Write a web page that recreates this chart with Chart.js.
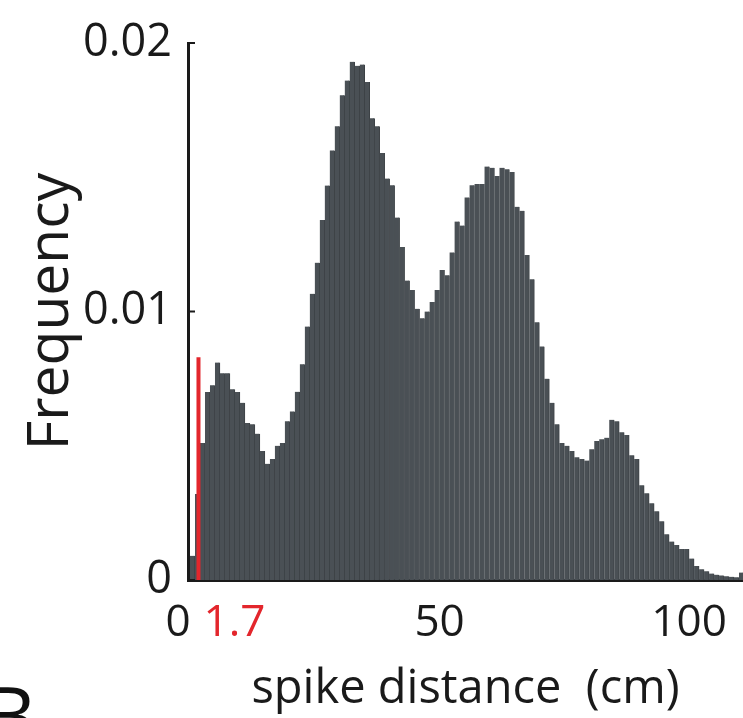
<!DOCTYPE html>
<html>
<head>
<meta charset="utf-8">
<title>Spike distance histogram</title>
<script src="https://cdn.jsdelivr.net/npm/chart.js@4/dist/chart.umd.min.js"></script>
<style>
  html, body { margin: 0; padding: 0; background: #fff; }
  #wrap { position: relative; width: 743px; height: 718px; overflow: hidden; }
  #hist { position: absolute; left: 0; top: 0; }
  #panel { position: absolute; left: -16px; top: 674px; font: 80px "Open Sans", sans-serif; line-height: 1; color: #111; }
</style>
</head>
<body>
<div id="wrap">
  <canvas id="hist" width="743" height="718"></canvas>
  <div id="panel">B</div>
</div>
<script>
// histogram of spike distances, 1 cm bins from 0
const binStart = 0;
const binWidth = 1;
const frequency = [
  0.0009, 0.0032, 0.0051, 0.0070, 0.00725, 0.0081, 0.0077, 0.0077, 0.0071, 0.0070,
  0.0066, 0.00585, 0.0058, 0.00545, 0.0048, 0.00433, 0.00451, 0.0050, 0.0051, 0.00591,
  0.00628, 0.00701, 0.00804, 0.00944, 0.01066, 0.01182, 0.01341, 0.01469, 0.0160, 0.0169,
  0.01805, 0.0186, 0.0193, 0.01915, 0.0192, 0.01855, 0.0172, 0.0169, 0.0159, 0.01495,
  0.0147, 0.0135, 0.0124, 0.01115, 0.0108, 0.0101, 0.00975, 0.0100, 0.01035, 0.0108,
  0.01155, 0.01135, 0.0122, 0.01335, 0.0132, 0.01425, 0.0147, 0.01475, 0.01475, 0.0154,
  0.01535, 0.01505, 0.01535, 0.0153, 0.0152, 0.0139, 0.01375, 0.0121, 0.0112, 0.0096,
  0.0087, 0.0075, 0.0066, 0.0058, 0.0051, 0.0050, 0.0048, 0.00457, 0.00451, 0.00445,
  0.00487, 0.00518, 0.00524, 0.0053, 0.00597, 0.00591, 0.0055, 0.0054, 0.00465, 0.00451,
  0.00353, 0.00323, 0.00286, 0.00256, 0.00219, 0.0017, 0.00143, 0.0013, 0.00115, 0.00115,
  0.0008, 0.00052, 0.0004, 0.00033, 0.00024, 0.0002, 0.00017, 0.00014, 0.00012, 0.0001,
  0.00028
];

// red marker at the threshold distance
const thresholdDistance = 1.7;
const thresholdHeight = 0.0083;

const yTicks = [0, 0.01, 0.02];
const xTickValues = [0, 1.7, 50, 100];
const xTickLabels = ['0', '1.7', '50', '100'];

const ink = '#1a1a1a';
const red = '#e3262c';
const fontFamily = '"Open Sans", "Noto Sans", sans-serif';

const bins = frequency.map((f, i) => ({ x: binStart + (i + 0.5) * binWidth, y: f }));

// inward y ticks and the hand-placed x tick labels
const axisDecor = {
    id: 'axisDecor',
    afterDraw(chart) {
        const { ctx, chartArea, scales: { x, y } } = chart;
        ctx.save();
        ctx.strokeStyle = ink;
        ctx.lineWidth = 2;
        yTicks.forEach(v => {
            const py = y.getPixelForValue(v);
            ctx.beginPath();
            ctx.moveTo(chartArea.left, py);
            ctx.lineTo(chartArea.left + 7, py);
            ctx.stroke();
        });

        ctx.font = '44px ' + fontFamily;
        ctx.textAlign = 'center';
        ctx.textBaseline = 'alphabetic';
        xTickValues.forEach((v, i) => {
            // 0 and 1.7 sit too close, push them apart
            let nudge = 0;
            if (v === 0) nudge = -12;
            if (v === thresholdDistance) nudge = 36;
            ctx.fillStyle = v === thresholdDistance ? red : ink;
            ctx.fillText(xTickLabels[i], x.getPixelForValue(v) + nudge, chartArea.bottom + 56);
        });
        ctx.restore();
    }
};

new Chart(document.getElementById('hist'), {
    type: 'bar',
    data: {
        datasets: [
            {
                type: 'line',
                data: [{ x: thresholdDistance, y: 0 }, { x: thresholdDistance, y: thresholdHeight }],
                borderColor: red,
                borderWidth: 4,
                borderCapStyle: 'butt',
                pointRadius: 0,
                order: 0
            },
            {
                type: 'bar',
                data: bins,
                backgroundColor: '#4a5055',
                borderColor: '#3c4145',
                borderWidth: { left: 0, right: 1, top: 0, bottom: 0 },
                barPercentage: 1,
                categoryPercentage: 1,
                order: 1
            }
        ]
    },
    options: {
        responsive: false,
        animation: false,
        devicePixelRatio: 1,
        layout: { padding: { top: 32, right: 0, bottom: 0, left: 0 } },
        plugins: {
            legend: { display: false },
            tooltip: { enabled: false }
        },
        scales: {
            x: {
                type: 'linear',
                min: -0.4,
                max: 110.8,
                offset: false,
                grid: { display: false, drawTicks: false },
                border: { display: true, color: ink, width: 3 },
                ticks: { display: false },
                title: {
                    display: true,
                    text: 'spike distance  (cm)',
                    color: ink,
                    font: { family: fontFamily, size: 47 },
                    padding: { top: 0, bottom: 0 }
                },
                afterFit: s => { s.height = 138; }
            },
            y: {
                min: 0,
                max: 0.02,
                grid: { display: false, drawTicks: false },
                border: { display: true, color: ink, width: 3 },
                afterBuildTicks: s => { s.ticks = yTicks.map(v => ({ value: v })); },
                ticks: {
                    color: ink,
                    padding: 16,
                    font: { family: fontFamily, size: 45 },
                    callback: v => v === 0 ? '0' : v.toFixed(2)
                },
                title: {
                    display: true,
                    text: 'Frequency',
                    color: ink,
                    font: { family: fontFamily, size: 57 },
                    padding: { top: 18, bottom: 0 }
                },
                afterFit: s => { s.width = 188; }
            }
        }
    },
    plugins: [axisDecor]
});
</script>
</body>
</html>
